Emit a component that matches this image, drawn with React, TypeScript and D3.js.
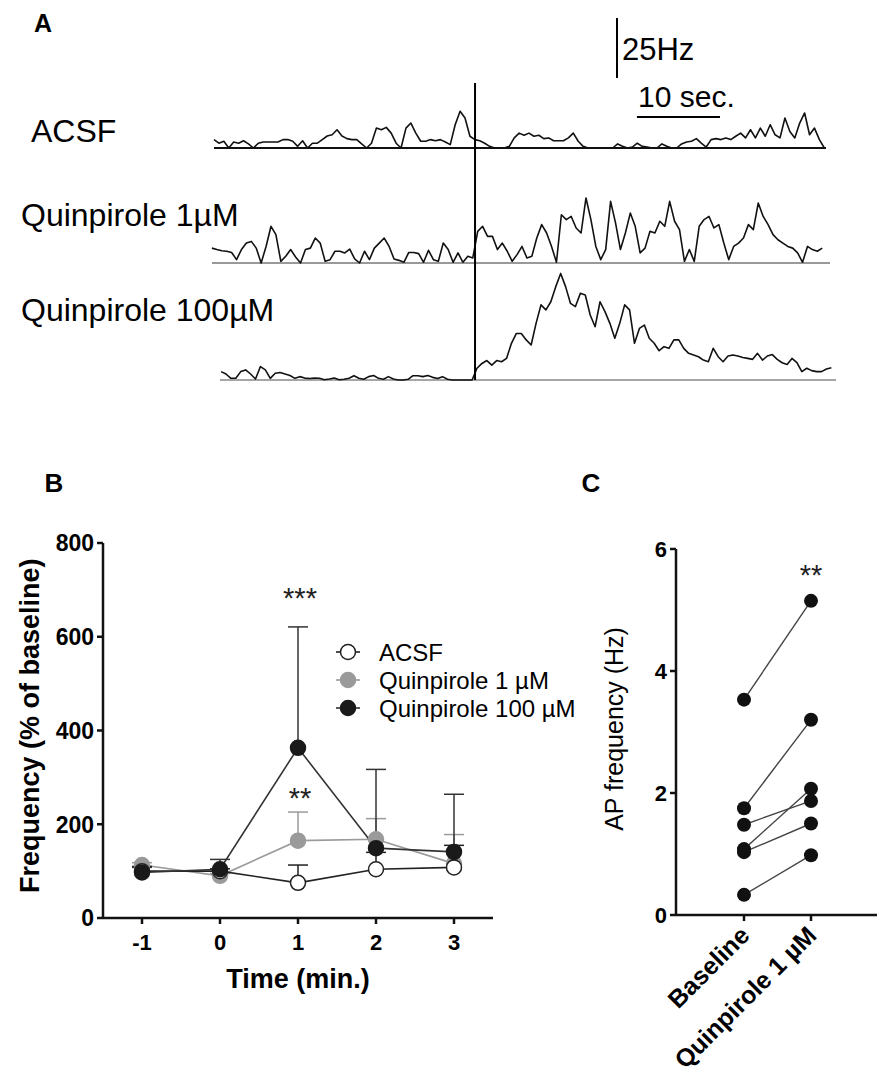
import React from 'react';
import * as d3 from 'd3';

// ---- Panel A: firing-rate traces (Hz), one value every DT seconds ----
const DT = 0.593;
const acsfTrace = [
  3.5, 2, 2.8, 0, 2.5, 2, 3, 1.7, 0, 2, 2.5, 2.5, 2.5, 2.5, 3.5, 3.5, 2.8, 0.7, 3, 0,
  2, 2, 3.5, 5, 5.5, 7.6, 5, 3.9, 3.5, 3.5, 1.7, 0, 2, 8.3, 7.6, 8.6, 6.2, 2, 0, 8.3,
  10.4, 6.2, 2.8, 2.8, 3.5, 3, 3.5, 2.5, 1.4, 9.7, 15.3, 12.5, 4.9, 3.5, 3, 2, 0.7, 0, 0, 0,
  0.7, 4.2, 6.2, 5.3, 6.2, 4.9, 5.3, 3.9, 4.2, 3, 3, 3, 4.2, 6.2, 2.8, 0.7, 0, 0, 0, 0,
  0, 0, 1.7, 0.7, 0, 0.4, 2, 0.7, 0.4, 0, 0, 1.7, 0.7, 0, 0, 1.7, 2.5, 2.8, 3.9, 2,
  0.4, 3.5, 3.9, 3.5, 4.2, 3.5, 4.9, 6.2, 4.2, 7.6, 4.2, 8.3, 4.9, 9.7, 5.5, 4.2, 12.5, 6.9, 4.2, 10.4,
  14.6, 5.5, 8.3, 3.5, 0,
];
const quin1Trace = [
  6.2, 5.6, 5.1, 4.9, 4.4, 1.4, 5.6, 8.3, 9, 6.2, 0, 6.9, 15.3, 11.8, 0.7, 2.8, 5.6, 2.5, 0, 5.6,
  6.2, 10.4, 8.3, 0.7, 1.4, 4.9, 4.9, 4.2, 5.8, 1.7, 0, 4.9, 1.4, 6.2, 8.3, 10.4, 6.9, 1.7, 1.1, 0.3,
  4.4, 4.4, 3.9, 0.3, 5.3, 1.4, 0.7, 8.3, 5.6, 0.3, 4.2, 0.3, 2.8, 2.1, 13.2, 15.3, 11.1, 11.1, 5.6, 8.3,
  4.9, 0.7, 3.5, 6.9, 2.1, 2.8, 10.4, 16, 12.5, 6.9, 0.3, 20.1, 18.1, 19.4, 14.6, 12.5, 27.1, 18.1, 6.9, 1.4,
  5.6, 25.7, 16.7, 5.6, 12.5, 20.8, 15.3, 4.2, 6.2, 13.2, 12.5, 17.4, 15.3, 25.7, 17.4, 13.9, 0.7, 5.6, 0.7, 15.3,
  18.1, 19.4, 14.6, 16, 8.3, 1.4, 6.9, 8.3, 10.4, 16, 13.9, 25, 19.4, 16, 11.8, 9.7, 8.3, 6.9, 6.2, 4.2,
  0.3, 6.9, 5.6, 4.9, 6.2,
];
const quin100Trace = [
  3.5, 2.5, 0.7, 0.7, 3.5, 4.2, 2.5, 0.4, 5.6, 4.2, 0.7, 2.8, 3.1, 2.5, 1.9, 0.7, 1.4, 0.8, 0.6, 0.8,
  0.7, 0.1, 0.4, 0.8, 0.1, 0.3, 0.7, 1.8, 0.7, 0.3, 1.4, 1.9, 0.7, 0.3, 1.4, 0.4, 0, 0, 0.3, 1.8,
  1.8, 1.4, 1.9, 1.1, 0.6, 1.4, 0.3, 0, 0, 0, 0, 0, 4.9, 6.9, 8.1, 6.2, 8.1, 7.6, 9, 15.3,
  19.4, 19.4, 16.7, 14.6, 23.6, 31.3, 29.2, 32.6, 38.9, 44.4, 38.9, 31.9, 30.6, 36.1, 35.4, 27.1, 22.2, 32.6, 28.5, 23.6,
  17.4, 23.6, 31.3, 29.2, 15.3, 21.5, 22.9, 17.4, 15.3, 12.2, 13.9, 13.2, 16.7, 16.7, 13.2, 11.1, 10.4, 9.7, 8.3, 7.6,
  13.2, 9.7, 7.6, 10, 10.4, 10, 9.4, 9, 8.6, 11.1, 8.3, 10, 10.6, 8.6, 7.2, 6.5, 9, 7.2, 3.5, 4.9,
  3.9, 3.5, 3.5, 4.6, 5.1,
];
const traceLabels = ['ACSF', 'Quinpirole 1µM', 'Quinpirole 100µM'];
const traceStarts = [0, -0.25, 0.85]; // s
const stimTime = 31.45; // s
const scaleHz = 25;
const scaleSec = 10;

// ---- Panel B: frequency, % of baseline (mean and upper error) ----
const timePoints = [-1, 0, 1, 2, 3];
const acsfMean = [100, 100, 75, 104, 108];
const acsfUpper = [110, 105, 113, 140, 155];
const quin1Mean = [113, 90, 165, 168, 116];
const quin1Upper = [118, 95, 226, 212, 178];
const quin100Mean = [97, 104, 363, 149, 141];
const quin100Upper = [108, 125, 621, 317, 264];
const freqTicks = [0, 200, 400, 600, 800];

// ---- Panel C: AP frequency per cell (Hz) ----
const conditions = ['Baseline', 'Quinpirole 1 µM'];
const baselineHz = [3.53, 1.75, 1.48, 1.08, 1.03, 0.33];
const quinpiroleHz = [5.15, 3.2, 1.87, 2.07, 1.5, 0.98];
const apTicks = [0, 2, 4, 6];

const FONT = "'Liberation Sans', Arial, Helvetica, sans-serif";

export default function App() {
  // Panel A scales
  const tx = d3.scaleLinear().domain([0, 74]).range([214, 214 + 74 * 8.3]);
  const hz = d3.scaleLinear().domain([0, 25]).range([0, 60]);
  const traceRows = [
    { values: acsfTrace, base: 148, x0: 214, x1: 826, baseColor: '#111', baseWidth: 2, lx: 31, ly: 142 },
    { values: quin1Trace, base: 263, x0: 212, x1: 830, baseColor: '#777', baseWidth: 1.5, lx: 21, ly: 226 },
    { values: quin100Trace, base: 380, x0: 220, x1: 836, baseColor: '#888', baseWidth: 1.5, lx: 21, ly: 321 },
  ];

  // Panel B scales
  const xB = d3.scaleLinear().domain([-1.5, 3.5]).range([103, 493]);
  const yB = d3.scaleLinear().domain([0, 800]).range([918, 543]);
  const lineB = d3.line<number>().x((d, i) => xB(timePoints[i])).y(d => yB(d));
  const seriesB = [
    { name: 'Quinpirole 1 µM', mean: quin1Mean, upper: quin1Upper, line: '#9a9a9a', fill: '#9a9a9a', stroke: '#9a9a9a' },
    { name: 'ACSF', mean: acsfMean, upper: acsfUpper, line: '#222', fill: '#fff', stroke: '#222' },
    { name: 'Quinpirole 100 µM', mean: quin100Mean, upper: quin100Upper, line: '#333', fill: '#1a1a1a', stroke: '#1a1a1a' },
  ];
  const legendOrder = [seriesB[1], seriesB[0], seriesB[2]];

  // Panel C scales
  const xC = d3.scalePoint<string>().domain(conditions).range([744, 811]);
  const yC = d3.scaleLinear().domain([0, 6]).range([915, 549]);

  return (
    <svg width={892} height={1092} style={{ position: 'absolute', left: 0, top: 0, background: '#fff' }} fontFamily={FONT}>
      <rect width={892} height={1092} fill="#fff" />

      {/* ---------- A ---------- */}
      <text x={34} y={32} fontSize={25} fontWeight="bold">A</text>
      {traceRows.map((row, k) => {
        const line = d3.line<number>()
          .x((d, i) => tx(traceStarts[k] + i * DT))
          .y(d => row.base - hz(d));
        return (
          <g key={k}>
            <line x1={row.x0} x2={row.x1} y1={row.base} y2={row.base} stroke={row.baseColor} strokeWidth={row.baseWidth} />
            <path d={line(row.values) || ''} fill="none" stroke="#111" strokeWidth={1.6} strokeLinejoin="round" />
            <text x={row.lx} y={row.ly} fontSize={32}>{traceLabels[k]}</text>
          </g>
        );
      })}
      <line x1={tx(stimTime)} x2={tx(stimTime)} y1={83} y2={380} stroke="#000" strokeWidth={2} />
      {/* scale bars */}
      <line x1={617} x2={617} y1={18} y2={18 + hz(scaleHz)} stroke="#000" strokeWidth={2} />
      <text x={622} y={60} fontSize={31}>{scaleHz}Hz</text>
      <line x1={tx(50.96)} x2={tx(50.96 + scaleSec)} y1={117} y2={117} stroke="#000" strokeWidth={2} />
      <text x={638} y={107} fontSize={30}>{scaleSec} sec.</text>

      {/* ---------- B ---------- */}
      <text x={54} y={492} fontSize={26} fontWeight="bold" textAnchor="middle">B</text>
      <line x1={xB(-1.5)} x2={xB(-1.5)} y1={yB(800)} y2={yB(0)} stroke="#111" strokeWidth={2.5} />
      <line x1={xB(-1.5)} x2={xB(3.5)} y1={yB(0)} y2={yB(0)} stroke="#111" strokeWidth={2.5} />
      {freqTicks.map(t => (
        <g key={t}>
          <line x1={xB(-1.5) - 6} x2={xB(-1.5)} y1={yB(t)} y2={yB(t)} stroke="#111" strokeWidth={2.5} />
          <text x={xB(-1.5) - 9} y={yB(t)} dy="0.36em" textAnchor="end" fontSize={23} fontWeight="bold">{t}</text>
        </g>
      ))}
      {timePoints.map(t => (
        <g key={t}>
          <line x1={xB(t)} x2={xB(t)} y1={yB(0)} y2={yB(0) + 6} stroke="#111" strokeWidth={2.5} />
          <text x={xB(t)} y={yB(0) + 24} dy="0.36em" textAnchor="middle" fontSize={22} fontWeight="bold">{t}</text>
        </g>
      ))}
      <text x={xB(1)} y={988} textAnchor="middle" fontSize={27} fontWeight="bold">Time (min.)</text>
      <text transform={`translate(39,${yB(410)}) rotate(-90)`} textAnchor="middle" fontSize={27} fontWeight="bold">
        Frequency (% of baseline)
      </text>

      {seriesB.map(s => (
        <g key={s.name}>
          {s.mean.map((m, i) => (
            <g key={i} stroke={s.line} strokeWidth={1.5}>
              <line x1={xB(timePoints[i])} x2={xB(timePoints[i])} y1={yB(m)} y2={yB(s.upper[i])} />
              <line x1={xB(timePoints[i]) - 10} x2={xB(timePoints[i]) + 10} y1={yB(s.upper[i])} y2={yB(s.upper[i])} />
            </g>
          ))}
          <path d={lineB(s.mean) || ''} fill="none" stroke={s.line} strokeWidth={1.6} />
        </g>
      ))}
      {seriesB.map(s => (
        <g key={s.name + 'pts'}>
          {s.mean.map((m, i) => (
            <circle key={i} cx={xB(timePoints[i])} cy={yB(m)} r={7.5} fill={s.fill} stroke={s.stroke} strokeWidth={1.5} />
          ))}
        </g>
      ))}
      <text x={xB(1) + 2} y={608} textAnchor="middle" fontSize={29} fill="#222">***</text>
      <text x={xB(1) + 2} y={808} textAnchor="middle" fontSize={29} fill="#222">**</text>

      {legendOrder.map((s, i) => {
        const ly = 652 + i * 28;
        return (
          <g key={s.name}>
            <line x1={336} x2={360} y1={ly} y2={ly} stroke={s.line} strokeWidth={1.6} />
            <circle cx={348} cy={ly} r={7.5} fill={s.fill} stroke={s.stroke} strokeWidth={1.5} />
            <text x={379} y={ly} dy="0.36em" fontSize={24}>{s.name}</text>
          </g>
        );
      })}

      {/* ---------- C ---------- */}
      <text x={591} y={492} fontSize={26} fontWeight="bold" textAnchor="middle">C</text>
      <line x1={676} x2={676} y1={yC(6)} y2={yC(0)} stroke="#111" strokeWidth={2.5} />
      <line x1={676} x2={877} y1={yC(0)} y2={yC(0)} stroke="#111" strokeWidth={2.5} />
      {apTicks.map(t => (
        <g key={t}>
          <line x1={670} x2={676} y1={yC(t)} y2={yC(t)} stroke="#111" strokeWidth={2.5} />
          <text x={667} y={yC(t)} dy="0.36em" textAnchor="end" fontSize={22} fontWeight="bold">{t}</text>
        </g>
      ))}
      {conditions.map(c => (
        <g key={c}>
          <line x1={xC(c)} x2={xC(c)} y1={yC(0)} y2={yC(0) + 6} stroke="#111" strokeWidth={2.5} />
          <text transform={`translate(${(xC(c) || 0) + 7},${yC(0) + 22}) rotate(-45)`} textAnchor="end" fontSize={25} fontWeight="bold">{c}</text>
        </g>
      ))}
      <text transform={`translate(623,${yC(3.05)}) rotate(-90)`} textAnchor="middle" fontSize={25}>AP frequency (Hz)</text>
      {baselineHz.map((b, i) => (
        <line key={i} x1={xC(conditions[0])} x2={xC(conditions[1])} y1={yC(b)} y2={yC(quinpiroleHz[i])} stroke="#444" strokeWidth={1.4} />
      ))}
      {baselineHz.map((b, i) => (
        <g key={'p' + i} fill="#111">
          <circle cx={xC(conditions[0])} cy={yC(b)} r={7} />
          <circle cx={xC(conditions[1])} cy={yC(quinpiroleHz[i])} r={7} />
        </g>
      ))}
      <text x={xC(conditions[1])} y={585} textAnchor="middle" fontSize={29} fill="#222">**</text>
    </svg>
  );
}
